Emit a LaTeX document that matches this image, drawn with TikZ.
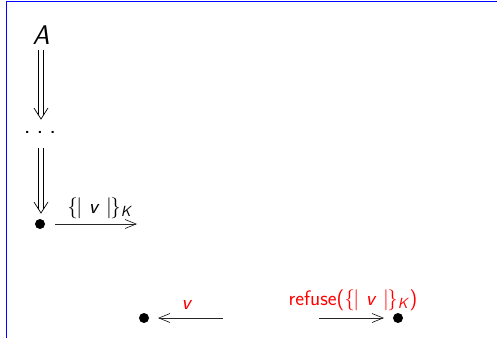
\documentclass[tikz,border=0pt]{standalone}
\usetikzlibrary{arrows.meta}
\begin{document}
\begin{tikzpicture}[x=1pt,y=1pt,
  lbl/.style={font=\sffamily\fontsize{21}{23}\selectfont, inner sep=1pt},
  dot/.style={circle, fill=black, inner sep=0pt, minimum size=10pt},
  msg/.style={draw=black!85, line width=0.7pt, -{Straight Barb[length=11pt,width=9pt]}},
  dline/.style={draw=black, line width=0.7pt},
  dhead/.style={draw=black, line width=0.7pt, line join=miter}
]
\useasboundingbox (0,0) rectangle (497,-338);
\draw[blue, line width=1pt] (6.5,-338) -- (6.5,-1.5) -- (497,-1.5);
\node[font=\sffamily\itshape\fontsize{27}{29}\selectfont, inner sep=0pt] (A) at (41,-35) {A};
\node[font=\sffamily\fontsize{26}{28}\selectfont, inner sep=0pt, anchor=base] (dots) at (40,-133) {.\hspace{6pt}.\hspace{6pt}.};
\node[dot] (p) at (40,-224) {};
\coordinate (a1) at (41,-50);
\coordinate (a2) at (41,-119);
\coordinate (b1) at (41,-148);
\coordinate (b2) at (41,-213);
\coordinate (pe) at (137,-224);
\coordinate (ps) at (55,-224);
\node[dot] (q) at (144,-318) {};
\coordinate (qs) at (223,-318);
\coordinate (qe) at (158,-318);
\node[dot] (r) at (398,-318) {};
\coordinate (rs) at (319,-318);
\coordinate (re) at (384,-318);
\foreach \s/\e in {a1/a2, b1/b2} {
  \draw[dline] ([xshift=-2.2pt]\s) -- ([xshift=-2.2pt,yshift=4pt]\e);
  \draw[dline] ([xshift=2.2pt]\s) -- ([xshift=2.2pt,yshift=4pt]\e);
  \draw[dhead] ([xshift=-7pt,yshift=11pt]\e) .. controls ([xshift=-3pt,yshift=5pt]\e) .. (\e)
               .. controls ([xshift=3pt,yshift=5pt]\e) .. ([xshift=7pt,yshift=11pt]\e);
}
\draw[msg] (ps) -- (pe);
\node[lbl, anchor=base] (l1) at (100,-213) {\{\kern-1.5pt\textbar\ \textit{v} \textbar\kern-1.5pt\}\textsubscript{\textit{K}}};
\draw[msg] (qs) -- (qe);
\node[lbl, anchor=base, text=red] (l2) at (187,-309) {\textit{v}};
\draw[msg] (rs) -- (re);
\node[lbl, anchor=base, text=red] (l3) at (353,-305) {refuse(\{\kern-1.5pt\textbar\ \textit{v} \textbar\kern-1.5pt\}\textsubscript{\textit{K}})};
\end{tikzpicture}
\end{document}
